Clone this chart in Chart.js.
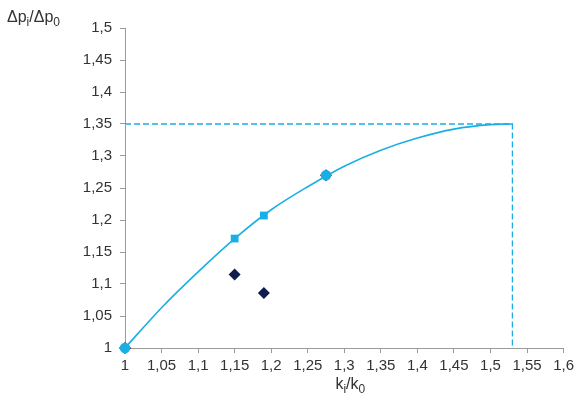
<!DOCTYPE html>
<html>
<head>
<meta charset="utf-8">
<script src="https://cdn.jsdelivr.net/npm/chart.js@4/dist/chart.umd.min.js"></script>
<style>
  html, body { margin: 0; padding: 0; background: #fff; }
  #wrap { width: 578px; height: 397px; }
</style>
</head>
<body>
<div id="wrap"><canvas id="c" width="578" height="397"></canvas></div>
<script>
// tick values of both axes
let xTicks = [1, 1.05, 1.1, 1.15, 1.2, 1.25, 1.3, 1.35, 1.4, 1.45, 1.5, 1.55, 1.6];
let yTicks = [1, 1.05, 1.1, 1.15, 1.2, 1.25, 1.3, 1.35, 1.4, 1.45, 1.5];

// fitted curve
let curveX = [1, 1.05, 1.1, 1.15, 1.2, 1.25, 1.3, 1.35, 1.4, 1.45, 1.5, 1.53];
let curveY = [1, 1.063, 1.119, 1.171, 1.216, 1.252, 1.284, 1.309, 1.328, 1.342, 1.349, 1.35];

// measured points (dark diamonds)
let measX = [1, 1.15, 1.19, 1.275];
let measY = [1, 1.115, 1.086, 1.27];

// calculated points (light squares)
let calcX = [1.15, 1.19];
let calcY = [1.171, 1.207];

// reference points (light circles)
let refX = [1, 1.275];
let refY = [1, 1.27];

// maximum marked by dashed lines
let maxX = 1.53;
let maxY = 1.35;

let lightBlue = "#1aaee6";
let navy = "#0f1c4d";
let axisGray = "#9a9a9a";
let fontFam = "'Liberation Sans', Arial, sans-serif";

function pts(xs, ys) {
    return xs.map(function(x, i) { return {x: x, y: ys[i]}; });
}
function comma(v) {
    return String(v).replace('.', ',');
}

// axis titles with subscripts
let axisTitles = {
    id: "axisTitles",
    afterDraw: function(chart) {
        let ctx = chart.ctx;
        ctx.save();
        ctx.fillStyle = "#333";
        ctx.textBaseline = "alphabetic";
        function setFont(p) {
            ctx.font = (p.sub ? "12px " : "16px ") + fontFam;
        }
        function drawParts(parts, x, y) {
            parts.forEach(function(p) {
                setFont(p);
                ctx.fillText(p.t, x, p.sub ? y + 4 : y);
                x += ctx.measureText(p.t).width;
            });
        }
        function width(parts) {
            let w = 0;
            parts.forEach(function(p) {
                setFont(p);
                w += ctx.measureText(p.t).width;
            });
            return w;
        }
        let yParts = [{t: "Δp"}, {t: "i", sub: true}, {t: "/Δp"}, {t: "0", sub: true}];
        drawParts(yParts, 7, 22);
        let xParts = [{t: "k"}, {t: "i", sub: true}, {t: "/k"}, {t: "0", sub: true}];
        let cx = (chart.chartArea.left + chart.chartArea.right) / 2 + 6;
        drawParts(xParts, cx - width(xParts) / 2, 389);
        ctx.restore();
    }
};

new Chart(document.getElementById("c"), {
    type: "scatter",
    data: {
        datasets: [
            {
                label: "ref",
                data: pts(refX, refY),
                pointStyle: "circle",
                pointRadius: 5.2,
                backgroundColor: lightBlue,
                borderColor: lightBlue,
                borderWidth: 0,
                clip: false,
                order: 0
            },
            {
                label: "calc",
                data: pts(calcX, calcY),
                pointStyle: "rect",
                pointRadius: 5.5,
                backgroundColor: lightBlue,
                borderColor: lightBlue,
                borderWidth: 0,
                clip: false,
                order: 1
            },
            {
                label: "meas",
                data: pts(measX, measY),
                pointStyle: "rectRot",
                pointRadius: 6,
                backgroundColor: navy,
                borderColor: navy,
                borderWidth: 0,
                clip: false,
                order: 2
            },
            {
                label: "curve",
                type: "line",
                data: pts(curveX, curveY),
                showLine: true,
                borderColor: lightBlue,
                borderWidth: 1.6,
                pointRadius: 0,
                cubicInterpolationMode: "monotone",
                fill: false,
                clip: false,
                order: 3
            },
            {
                label: "max",
                type: "line",
                data: [{x: xTicks[0], y: maxY}, {x: maxX, y: maxY}, {x: maxX, y: yTicks[0]}],
                showLine: true,
                borderColor: lightBlue,
                borderWidth: 1.3,
                borderDash: [6, 3],
                pointRadius: 0,
                tension: 0,
                fill: false,
                clip: false,
                order: 4
            }
        ]
    },
    options: {
        responsive: false,
        animation: false,
        layout: {
            padding: {left: 0, right: 11, top: 28, bottom: 0}
        },
        plugins: {
            legend: {display: false},
            tooltip: {enabled: false}
        },
        scales: {
            x: {
                type: "linear",
                min: 1,
                max: 1.6,
                afterBuildTicks: function(scale) {
                    scale.ticks = xTicks.map(function(v) { return {value: v}; });
                },
                afterFit: function(scale) { scale.height = 49; },
                grid: {
                    drawOnChartArea: false,
                    drawTicks: true,
                    tickLength: 5,
                    color: axisGray
                },
                border: {display: true, color: axisGray, width: 1},
                ticks: {
                    padding: 4,
                    color: "#333",
                    font: {family: fontFam, size: 15},
                    maxRotation: 0,
                    autoSkip: false,
                    callback: function(v) { return comma(v); }
                }
            },
            y: {
                type: "linear",
                min: 1,
                max: 1.5,
                afterBuildTicks: function(scale) {
                    scale.ticks = yTicks.map(function(v) { return {value: v}; });
                },
                afterFit: function(scale) { scale.width = 125; },
                grid: {
                    drawOnChartArea: false,
                    drawTicks: true,
                    tickLength: 5,
                    color: axisGray
                },
                border: {display: true, color: axisGray, width: 1},
                ticks: {
                    padding: 8,
                    color: "#333",
                    font: {family: fontFam, size: 15},
                    autoSkip: false,
                    callback: function(v) { return comma(v); }
                }
            }
        }
    },
    plugins: [axisTitles]
});
</script>
</body>
</html>
